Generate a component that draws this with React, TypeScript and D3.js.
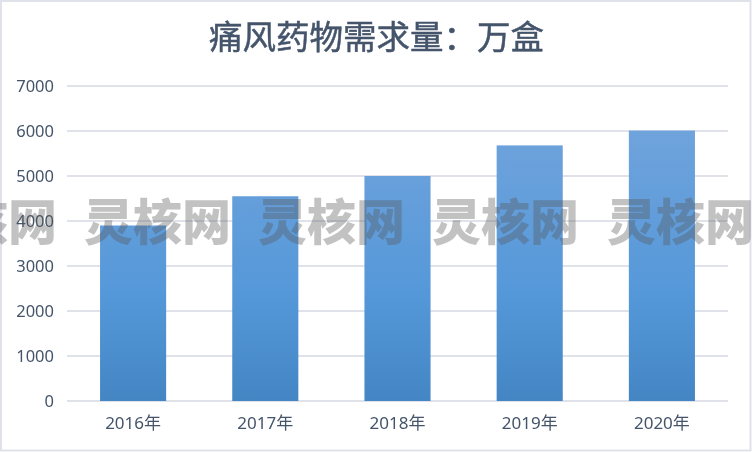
import React from 'react';
import * as d3 from 'd3';

const years = ['2016年', '2017年', '2018年', '2019年', '2020年'];
const demand = [3900, 4550, 5000, 5680, 6010];
const yTicks = [0, 1000, 2000, 3000, 4000, 5000, 6000, 7000];
const watermarkStarts = [-90, 84, 258, 432, 607];

const width = 752;
const height = 452;
const textColor = '#44546a';
const gridColor = '#dfe3e9';
const sansFont = '"Noto Sans", "Noto Sans CJK SC", sans-serif';

const x = d3.scaleBand<string>().domain(years).range([67, 728]).paddingInner(0.5).paddingOuter(0.25);
const y = d3.scaleLinear().domain([0, 7000]).range([401, 86]);

export default function App() {
  return (
    <svg
      width={width}
      height={height}
      viewBox={`0 0 ${width} ${height}`}
      style={{ position: 'fixed', left: 0, top: 0, display: 'block' }}
    >
      <defs>
        <linearGradient id="barFill" gradientUnits="userSpaceOnUse" x1="0" y1={y(6010)} x2="0" y2={y(0)}>
          <stop offset="0" stopColor="#6fa3dc" />
          <stop offset="0.6" stopColor="#5598d9" />
          <stop offset="1" stopColor="#4486c4" />
        </linearGradient>
      </defs>

      <rect x={1} y={1} width={width - 2.5} height={height - 2.5} fill="#fff" stroke={gridColor} strokeWidth={2} />

      <text
        x={376.5}
        y={49}
        textAnchor="middle"
        fontSize={33.5}
        fill={textColor}
        stroke={textColor}
        strokeWidth={0.5}
        fontFamily='"Noto Sans CJK SC", serif'
      >
        痛风药物需求量：万盒
      </text>

      {yTicks.map((t) => (
        <g key={t}>
          <line x1={67} x2={728} y1={y(t)} y2={y(t)} stroke={gridColor} strokeWidth={2} />
          <text x={54} y={y(t) + 6} textAnchor="end" fontSize={16.5} fill={textColor} fontFamily={sansFont}>
            {t}
          </text>
        </g>
      ))}

      {years.map((d, i) => (
        <rect
          key={d}
          x={x(d)}
          y={y(demand[i])}
          width={x.bandwidth()}
          height={y(0) - y(demand[i])}
          fill="url(#barFill)"
        />
      ))}

      {years.map((d) => (
        <text
          key={d}
          x={(x(d) as number) + x.bandwidth() / 2}
          y={429}
          textAnchor="middle"
          fontSize={17}
          fill={textColor}
          fontFamily={sansFont}
        >
          {d}
        </text>
      ))}

      {watermarkStarts.map((s) => (
        <text
          key={s}
          x={s}
          y={240}
          fontSize={49}
          fontWeight={900}
          fill="#555"
          fillOpacity={0.36}
          fontFamily='"Noto Sans CJK SC", sans-serif'
        >
          灵核网
        </text>
      ))}
    </svg>
  );
}
